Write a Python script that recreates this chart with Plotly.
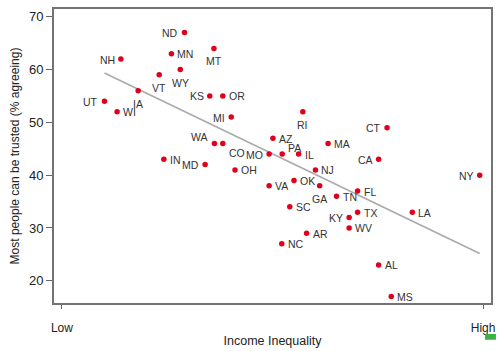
import numpy as np
import plotly.graph_objects as go

states = ["ND","MN","NH","WY","VT","IA","UT","WI","MT","KS","OR","MI","RI","IN",
          "WA","CO","AZ","MA","PA","MO","IL","MD","OH","NJ","VA","OK","GA","TN",
          "SC","KY","CT","CA","NY","FL","TX","LA","WV","AR","NC","AL","MS"]
inequality = [0.291,0.260,0.140,0.281,0.231,0.181,0.101,0.131,0.361,0.351,0.382,0.402,0.572,0.242,
              0.362,0.382,0.501,0.632,0.523,0.492,0.562,0.340,0.411,0.602,0.492,0.551,0.612,0.652,
              0.541,0.682,0.772,0.752,0.992,0.702,0.702,0.832,0.682,0.581,0.522,0.752,0.782]
trust = [67,63,62,60,59,56,54,52,64,55,55,51,52,43,
         46,46,47,46,44,44,44,42,41,41,38,39,38,36,
         34,32,49,43,40,37,33,33,30,29,27,23,17]
# label placement relative to the marker: l=left, r=right, b=below, ur=upper right, ul=upper left, br=below right
label_pos = ["l","r","l","b","b","b","l","r","b","l","r","l","b","r",
             "ul","br","r","r","ur","l","r","l","r","r","r","r","b","r",
             "r","l","l","l","l","r","r","r","r","r","r","r","r"]
x_tick_vals = [0, 1]
x_tick_text = ["Low", "High"]
y_tick_vals = [20, 30, 40, 50, 60, 70]

# style map: position code -> (xanchor, yanchor, xshift, yshift)
POS_STYLE = {
    "l":  ("right", "middle", -4, -0.5),
    "r":  ("left", "middle", 4, -0.5),
    "b":  ("center", "top", 0, -5),
    "ur": ("left", "middle", 4, 6),
    "ul": ("right", "middle", -4, 6),
    "br": ("left", "middle", 4, -10),
}

x = np.array(inequality)
y = np.array(trust)
slope, intercept = np.polyfit(x, y, 1)
fx = np.array([x.min(), x.max()])
fy = slope * fx + intercept

FONT = "Liberation Sans, Arial, sans-serif"

fig = go.Figure()
fig.add_trace(go.Scatter(x=fx, y=fy, mode="lines",
                         line=dict(color="#aaaaaa", width=1.6), hoverinfo="skip"))
fig.add_trace(go.Scatter(x=inequality, y=trust, mode="markers",
                         marker=dict(color="#e0001b", size=5.5)))

annotations = []
for s, xv, yv, p in zip(states, inequality, trust, label_pos):
    xa, ya, xs, ys = POS_STYLE[p]
    annotations.append(dict(x=xv, y=yv, xref="x", yref="y", text=s, showarrow=False,
                            xanchor=xa, yanchor=ya, xshift=xs, yshift=ys,
                            font=dict(family=FONT, size=10.5, color="#333333")))

fig.update_layout(
    width=500, height=351,
    margin=dict(l=54, r=5, t=9, b=38),
    paper_bgcolor="white", plot_bgcolor="white",
    showlegend=False,
    font=dict(family=FONT, color="#222222"),
    annotations=annotations,
    xaxis=dict(range=[-0.0188, 1.0188], tickvals=x_tick_vals, ticktext=x_tick_text,
               ticks="outside", ticklen=4, tickcolor="#666666", tickwidth=1,
               ticklabelstandoff=9,
               showgrid=False, zeroline=False, showline=True, mirror=True,
               linecolor="#737373", linewidth=2,
               tickfont=dict(size=12),
               title=dict(text="Income Inequality", font=dict(size=12.5), standoff=2)),
    yaxis=dict(range=[15.79, 71.47], tickvals=y_tick_vals,
               ticks="outside", ticklen=6, tickcolor="#666666", tickwidth=1,
               showgrid=False, zeroline=False, showline=True, mirror=True,
               linecolor="#737373", linewidth=2,
               tickfont=dict(size=13),
               title=dict(text="Most people can be trusted (% agreeing)", font=dict(size=12), standoff=7)),
    shapes=[dict(type="rect", xref="paper", yref="paper", x0=(489-54)/441, x1=(500-54)/441,
                 y0=-(345-313)/304, y1=-(351-313)/304, fillcolor="#3cb043", line=dict(width=0))]
)

fig.write_html("out.html")
